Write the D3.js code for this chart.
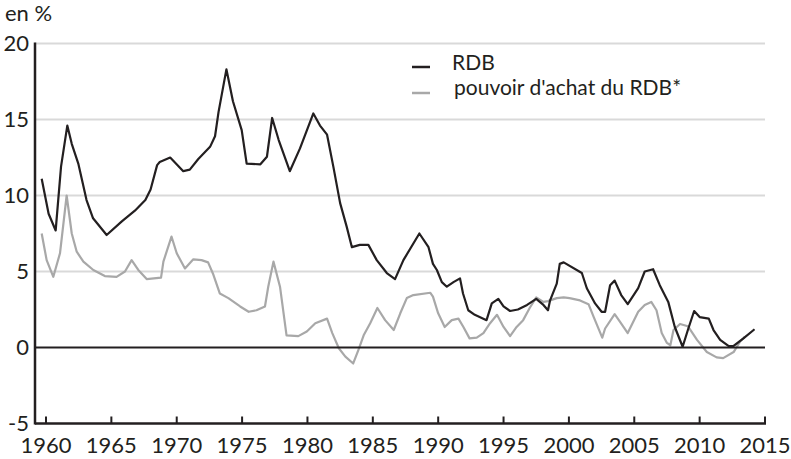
<!DOCTYPE html>
<html>
<head>
<meta charset="utf-8">
<script src="https://cdn.jsdelivr.net/npm/d3@7"></script>
<style>
body { margin: 0; background: #fff; }
svg text { font-family: Lato, "Open Sans", sans-serif; fill: #231f20; }
</style>
</head>
<body>
<div class="container"></div>
<script>
const wd = 791
const ht = 459

// data (year, %)
const rdbYears = [1959.67,1960.2,1960.74,1961.15,1961.63,1961.97,1962.47,1963.1,1963.6,1964.64,1965.8,1966.8,1967.6,1968.0,1968.5,1968.7,1969.5,1970.5,1971.0,1971.65,1972.55,1972.93,1973.2,1973.8,1974.3,1974.97,1975.35,1976.4,1976.9,1977.3,1977.8,1978.65,1979.43,1980.45,1980.96,1981.5,1981.98,1982.5,1983.0,1983.4,1984.0,1984.66,1985.3,1986.07,1986.7,1987.34,1988.56,1989.26,1989.6,1989.9,1990.28,1990.66,1991.17,1991.67,1991.9,1992.3,1992.8,1993.7,1994.1,1994.6,1995.0,1995.5,1996.1,1996.8,1997.5,1998.05,1998.4,1998.56,1999.07,1999.3,1999.6,2000.99,2001.37,2002.0,2002.5,2002.77,2003.15,2003.5,2004.0,2004.5,2005.3,2005.8,2006.44,2006.95,2007.6,2008.1,2008.7,2009.1,2009.58,2010.0,2010.7,2011.06,2011.57,2012.2,2012.6,2013.35,2014.2]
const rdbValues = [11.1,8.8,7.7,11.9,14.6,13.4,12.1,9.7,8.5,7.4,8.3,9.0,9.7,10.4,12.0,12.2,12.5,11.6,11.7,12.4,13.2,13.9,15.5,18.3,16.2,14.3,12.1,12.05,12.55,15.1,13.65,11.6,13.1,15.4,14.6,14.0,11.9,9.5,7.95,6.6,6.75,6.75,5.75,4.9,4.5,5.75,7.5,6.6,5.5,5.1,4.3,4.0,4.3,4.55,3.55,2.45,2.15,1.8,2.9,3.2,2.7,2.4,2.5,2.8,3.2,2.8,2.45,3.1,4.2,5.5,5.6,4.9,3.9,2.9,2.35,2.35,4.1,4.4,3.45,2.85,3.9,5.0,5.15,4.1,3.0,1.35,0.05,1.15,2.4,2.0,1.9,1.15,0.5,0.1,0.1,0.6,1.2]

const paYears = [1959.67,1960.05,1960.56,1961.07,1961.58,1961.97,1962.35,1962.86,1963.62,1964.5,1965.4,1966.04,1966.55,1967.06,1967.7,1968.8,1968.98,1969.6,1970.0,1970.63,1971.27,1971.9,1972.4,1972.8,1973.3,1973.95,1974.85,1975.5,1976.1,1976.75,1977.0,1977.4,1977.9,1978.4,1979.3,1979.95,1980.6,1981.5,1981.9,1982.4,1982.9,1983.5,1983.9,1984.3,1984.8,1985.35,1985.94,1986.6,1987.1,1987.6,1988.1,1989.4,1989.6,1990.0,1990.5,1991.04,1991.55,1991.93,1992.4,1992.95,1993.46,1993.97,1994.5,1995.0,1995.5,1996.0,1996.5,1997.0,1997.5,1998.05,1998.4,1999.07,1999.6,2000.05,2000.85,2001.5,2001.9,2002.55,2002.77,2003.5,2003.9,2004.5,2005.3,2005.8,2006.3,2006.7,2007.1,2007.5,2007.76,2008.0,2008.5,2009.1,2009.8,2010.55,2011.3,2011.8,2012.6,2013.1,2013.45]
const paValues = [7.5,5.75,4.65,6.2,10.0,7.5,6.3,5.65,5.1,4.7,4.65,5.0,5.75,5.1,4.5,4.6,5.65,7.3,6.2,5.2,5.8,5.75,5.6,4.8,3.55,3.25,2.7,2.35,2.45,2.7,4.0,5.65,4.0,0.8,0.75,1.05,1.6,1.9,0.95,-0.05,-0.6,-1.05,-0.15,0.8,1.6,2.6,1.8,1.15,2.25,3.25,3.45,3.6,3.35,2.25,1.35,1.8,1.9,1.35,0.6,0.65,0.95,1.6,2.15,1.35,0.75,1.35,1.8,2.6,3.3,3.0,3.05,3.25,3.3,3.25,3.1,2.85,2.0,0.65,1.25,2.2,1.7,0.95,2.35,2.8,3.0,2.45,0.95,0.3,0.15,1.15,1.55,1.4,0.5,-0.3,-0.65,-0.7,-0.3,0.4,0.7]

const yTicks = [-5, 0, 5, 10, 15, 20]
const xTicks = [1960, 1965, 1970, 1975, 1980, 1985, 1990, 1995, 2000, 2005, 2010, 2015]
const legendLabels = ["RDB", "pouvoir d'achat du RDB*"]
const yLabel = "en %"

const ink = "#231f20"
const grey = "#a8a8a8"

const svg = d3.select(".container")
.append("svg")
.attr("width", wd)
.attr("height", ht)

const x = d3.scaleLinear()
.domain([1960, 2015])
.range([46, 765])

const y = d3.scaleLinear()
.domain([-5, 20])
.range([423.5, 43.5])

const left = x.range()[0] - 11

// horizontal grid
svg.append("g")
.selectAll("line")
.data(yTicks.filter(d => d > 0))
.join("line")
.attr("x1", left)
.attr("x2", x(2015))
.attr("y1", d => y(d))
.attr("y2", d => y(d))
.style("stroke", "#d9d9d9")
.style("stroke-width", 2)

// y tick labels
svg.append("g")
.selectAll("text")
.data(yTicks)
.join("text")
.attr("x", 29)
.attr("y", d => y(d))
.attr("dy", "0.36em")
.attr("text-anchor", "end")
.style("font-size", "22px")
.text(d => d)

svg.append("text")
.attr("x", 5)
.attr("y", 21)
.style("font-size", "22px")
.text(yLabel)

const lineFunc = d3.line()
.x(d => x(d[0]))
.y(d => y(d[1]))
.curve(d3.curveLinear)

svg.append("path")
.attr("d", lineFunc(d3.zip(paYears, paValues)))
.attr("fill", "none")
.style("stroke", grey)
.style("stroke-width", 2.2)
.style("stroke-linejoin", "round")

svg.append("path")
.attr("d", lineFunc(d3.zip(rdbYears, rdbValues)))
.attr("fill", "none")
.style("stroke", ink)
.style("stroke-width", 2.2)
.style("stroke-linejoin", "round")

// zero line
svg.append("line")
.attr("x1", left)
.attr("x2", x(2015))
.attr("y1", y(0))
.attr("y2", y(0))
.style("stroke", ink)
.style("stroke-width", 2)

// axes
svg.append("line")
.attr("x1", left)
.attr("x2", left)
.attr("y1", y(20) - 1)
.attr("y2", y(-5) + 1)
.style("stroke", ink)
.style("stroke-width", 2.5)

svg.append("line")
.attr("x1", left)
.attr("x2", x(2015) + 1)
.attr("y1", y(-5))
.attr("y2", y(-5))
.style("stroke", ink)
.style("stroke-width", 2.5)

const xt = svg.append("g")
xt.selectAll("line")
.data(xTicks)
.join("line")
.attr("x1", d => x(d))
.attr("x2", d => x(d))
.attr("y1", y(-5))
.attr("y2", y(-5) - 7)
.style("stroke", ink)
.style("stroke-width", 2)

xt.selectAll("text")
.data(xTicks)
.join("text")
.attr("x", d => x(d))
.attr("y", 453)
.attr("text-anchor", "middle")
.style("font-size", "22px")
.text(d => d)

// legend
const legend = svg.append("g")
legend.selectAll("line")
.data([ink, grey])
.join("line")
.attr("x1", 412)
.attr("x2", 430)
.attr("y1", (d, i) => i == 0 ? 67 : 93)
.attr("y2", (d, i) => i == 0 ? 67 : 93)
.style("stroke", d => d)
.style("stroke-width", 2.5)

legend.selectAll("text")
.data(legendLabels)
.join("text")
.attr("x", (d, i) => i == 0 ? 452 : 454)
.attr("y", (d, i) => i == 0 ? 70 : 95)
.style("font-size", "21px")
.text(d => d)
</script>
</body>
</html>
